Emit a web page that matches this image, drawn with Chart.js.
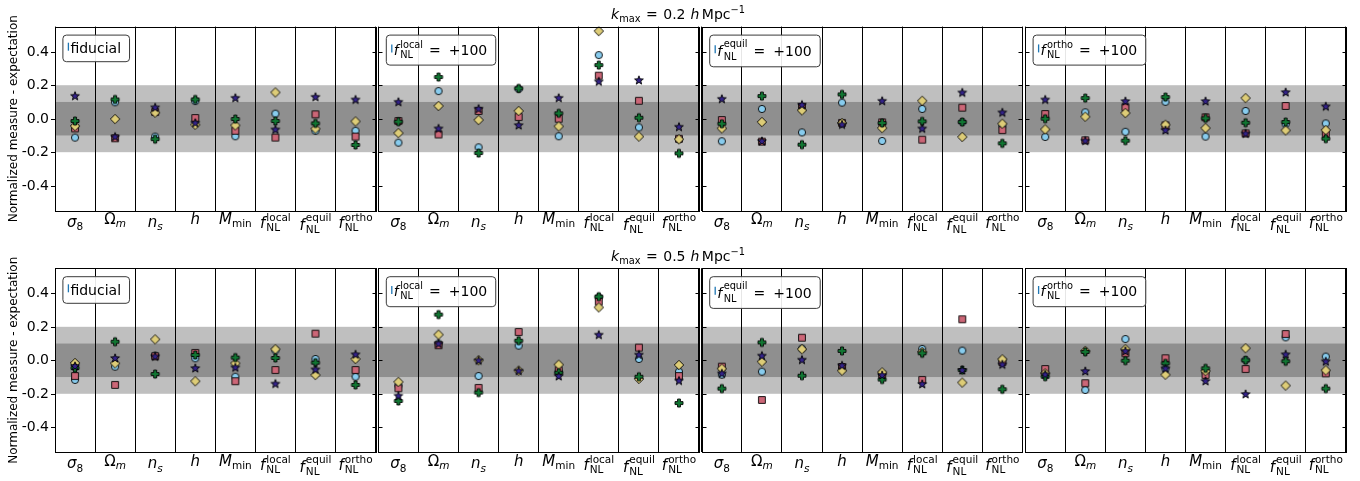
<!DOCTYPE html>
<html><head><meta charset="utf-8">
<script src="https://cdn.jsdelivr.net/npm/chart.js@4/dist/chart.umd.min.js"></script>
<style>
html,body{margin:0;padding:0;background:#fff;width:1360px;height:481px;overflow:hidden;}
#wrap{position:relative;width:1360px;height:481px;}
canvas{position:absolute;left:0;top:0;}
</style></head><body><div id="wrap"></div>
<script>
// ---------------- data ----------------
const categories = ['σ8', 'Ωm', 'ns', 'h', 'Mmin', 'fNL local', 'fNL equil', 'fNL ortho'];
const yTickValues = [-0.4, -0.2, 0, 0.2, 0.4];
const yTickLabels = ['-0.4', '-0.2', '0.0', '0.2', '0.4'];
const bandLimits = [0.1, 0.2];
const kmaxValues = ['0.2', '0.5'];
const panelNames = ['fiducial', 'local', 'equil', 'ortho'];
const seriesNames = ['circle', 'square', 'diamond', 'plus', 'star'];

// k_max = 0.2, fiducial
const k02_fid_circle  = [-0.113, 0.098, -0.107, 0.105, -0.105, 0.030, -0.072, -0.072];
const k02_fid_square  = [-0.058, -0.117, 0.040, 0.004, -0.072, -0.113, 0.026, -0.107];
const k02_fid_diamond = [-0.044, -0.002, 0.036, -0.036, -0.040, 0.157, -0.060, -0.016];
const k02_fid_plus    = [-0.014, 0.115, -0.122, 0.115, -0.002, -0.014, -0.028, -0.157];
const k02_fid_star    = [0.137, -0.107, 0.068, -0.024, 0.125, -0.064, 0.131, 0.115];
// k_max = 0.2, fNL local = +100
const k02_loc_circle  = [-0.143, 0.165, -0.171, 0.178, -0.105, 0.380, -0.052, -0.123];
const k02_loc_square  = [-0.014, -0.094, 0.046, 0.010, 0.000, 0.257, 0.107, -0.120];
const k02_loc_diamond = [-0.086, 0.076, -0.008, 0.046, -0.046, 0.523, -0.107, -0.123];
const k02_loc_plus    = [-0.018, 0.249, -0.205, 0.181, 0.032, 0.320, 0.006, -0.207];
const k02_loc_star    = [0.101, -0.058, 0.060, -0.038, 0.125, 0.223, 0.231, -0.048];
// k_max = 0.2, fNL equil = +100
const k02_equ_circle  = [-0.135, 0.058, -0.082, 0.096, -0.133, 0.058, -0.020, -0.040];
const k02_equ_square  = [-0.008, -0.137, 0.070, -0.025, -0.022, -0.125, 0.066, -0.068];
const k02_equ_diamond = [-0.058, -0.020, 0.050, -0.026, -0.056, 0.107, -0.109, -0.030];
const k02_equ_plus    = [-0.030, 0.135, -0.155, 0.145, -0.026, -0.016, -0.020, -0.147];
const k02_equ_star    = [0.119, -0.133, 0.084, -0.034, 0.107, -0.058, 0.157, 0.038];
// k_max = 0.2, fNL ortho = +100
const k02_ort_circle  = [-0.109, 0.038, -0.078, 0.101, -0.107, 0.046, -0.032, -0.028];
const k02_ort_square  = [0.028, -0.129, 0.068, -0.040, 0.008, -0.088, 0.076, -0.088];
const k02_ort_diamond = [-0.064, 0.012, 0.034, -0.036, -0.056, 0.123, -0.070, -0.068];
const k02_ort_plus    = [0.000, 0.123, -0.131, 0.129, 0.002, -0.024, -0.020, -0.119];
const k02_ort_star    = [0.115, -0.131, 0.105, -0.068, 0.105, -0.088, 0.159, 0.074];
// k_max = 0.5, fiducial
const k05_fid_circle  = [-0.117, -0.038, 0.028, 0.012, -0.098, 0.060, 0.008, -0.098];
const k05_fid_square  = [-0.094, -0.147, 0.024, 0.044, -0.125, -0.058, 0.159, -0.058];
const k05_fid_diamond = [-0.016, -0.018, 0.125, -0.125, -0.018, 0.066, -0.088, 0.008];
const k05_fid_plus    = [-0.046, 0.111, -0.082, 0.032, 0.016, 0.014, -0.014, -0.147];
const k05_fid_star    = [-0.034, 0.014, 0.024, -0.046, -0.042, -0.139, -0.054, 0.036];
// k_max = 0.5, fNL local = +100
const k05_loc_circle  = [-0.150, 0.100, -0.094, 0.088, -0.070, 0.376, 0.008, -0.068];
const k05_loc_square  = [-0.167, 0.090, -0.165, 0.169, -0.060, 0.350, 0.076, -0.094];
const k05_loc_diamond = [-0.129, 0.153, 0.000, -0.062, -0.026, 0.316, -0.111, -0.028];
const k05_loc_plus    = [-0.243, 0.273, -0.193, 0.117, -0.074, 0.380, -0.098, -0.255];
const k05_loc_star    = [-0.211, 0.100, 0.000, -0.062, -0.094, 0.153, 0.034, -0.121];
// k_max = 0.5, fNL equil = +100
const k05_equ_circle  = [-0.086, -0.068, 0.070, -0.050, -0.080, 0.068, 0.058, 0.000];
const k05_equ_square  = [-0.038, -0.237, 0.135, -0.040, -0.086, -0.117, 0.245, -0.010];
const k05_equ_diamond = [-0.050, -0.008, 0.066, -0.062, -0.072, 0.050, -0.133, 0.006];
const k05_equ_plus    = [-0.169, 0.107, -0.092, 0.056, -0.115, 0.042, -0.058, -0.173];
const k05_equ_star    = [-0.078, 0.028, 0.004, -0.030, -0.088, -0.141, -0.058, -0.024];
// k_max = 0.5, fNL ortho = +100
const k05_ort_circle  = [-0.080, -0.177, 0.127, -0.050, -0.070, 0.002, 0.137, 0.022];
const k05_ort_square  = [-0.052, -0.137, 0.042, 0.012, -0.088, -0.052, 0.157, -0.078];
const k05_ort_diamond = [-0.078, 0.056, 0.066, -0.086, -0.064, 0.072, -0.151, -0.060];
const k05_ort_plus    = [-0.098, 0.050, -0.002, -0.018, -0.048, 0.000, -0.006, -0.169];
const k05_ort_star    = [-0.084, -0.064, 0.056, -0.048, -0.123, -0.201, 0.036, -0.006];

const panelData = [
  [[k02_fid_circle, k02_fid_square, k02_fid_diamond, k02_fid_plus, k02_fid_star],
   [k02_loc_circle, k02_loc_square, k02_loc_diamond, k02_loc_plus, k02_loc_star],
   [k02_equ_circle, k02_equ_square, k02_equ_diamond, k02_equ_plus, k02_equ_star],
   [k02_ort_circle, k02_ort_square, k02_ort_diamond, k02_ort_plus, k02_ort_star]],
  [[k05_fid_circle, k05_fid_square, k05_fid_diamond, k05_fid_plus, k05_fid_star],
   [k05_loc_circle, k05_loc_square, k05_loc_diamond, k05_loc_plus, k05_loc_star],
   [k05_equ_circle, k05_equ_square, k05_equ_diamond, k05_equ_plus, k05_equ_star],
   [k05_ort_circle, k05_ort_square, k05_ort_diamond, k05_ort_plus, k05_ort_star]]
];

// ---------------- style / layout ----------------
const W = 1360, H = 481;
const panelLefts = [55, 378.4, 701.8, 1025.2];
const panelWidth = 320.6;
const rowTops = [26.6, 268.2];
const panelHeight = 184.2;
const FONT = '"DejaVu Sans", "Liberation Sans", sans-serif';
const seriesColors = {circle: '#88CCEE', square: '#CC6677', diamond: '#DDCC77', plus: '#117733', star: '#332288'};
const seriesOrder = {circle: 5, square: 4, diamond: 3, plus: 2, star: 1};

function makeMarker(kind) {
  const c = document.createElement('canvas');
  c.width = 16; c.height = 16;
  const g = c.getContext('2d');
  g.translate(8, 8);
  g.beginPath();
  if (kind === 'circle') {
    g.arc(0, 0, 3.6, 0, Math.PI * 2);
  } else if (kind === 'square') {
    g.rect(-3.4, -3.4, 6.8, 6.8);
  } else if (kind === 'diamond') {
    g.moveTo(0, -4.7); g.lineTo(4.7, 0); g.lineTo(0, 4.7); g.lineTo(-4.7, 0);
  } else if (kind === 'plus') {
    const a = 4.0, b = 1.45;
    g.moveTo(-b, -a); g.lineTo(b, -a); g.lineTo(b, -b); g.lineTo(a, -b); g.lineTo(a, b);
    g.lineTo(b, b); g.lineTo(b, a); g.lineTo(-b, a); g.lineTo(-b, b); g.lineTo(-a, b);
    g.lineTo(-a, -b); g.lineTo(-b, -b);
  } else if (kind === 'star') {
    const ro = 4.6, ri = 1.9;
    for (let k = 0; k < 10; k++) {
      const r = k % 2 ? ri : ro;
      const ang = -Math.PI / 2 + k * Math.PI / 5;
      const px = r * Math.cos(ang), py = r * Math.sin(ang) + 0.4;
      if (k === 0) g.moveTo(px, py); else g.lineTo(px, py);
    }
  }
  g.closePath();
  g.fillStyle = seriesColors[kind];
  g.fill();
  g.lineWidth = 0.9;
  g.strokeStyle = '#000';
  g.stroke();
  return c;
}
const markerImgs = {};
seriesNames.forEach(n => markerImgs[n] = makeMarker(n));

function font(s, it) { return (it ? 'italic ' : '') + s + 'px ' + FONT; }
function measureParts(ctx, parts) {
  let w = 0;
  for (const p of parts) {
    w += p.gap || 0;
    if (p.sup !== undefined) {
      ctx.font = font(p.s, false);
      p._w = Math.max(ctx.measureText(p.sup).width, ctx.measureText(p.sub).width);
    } else {
      ctx.font = font(p.s, p.i);
      p._w = ctx.measureText(p.t).width;
    }
    w += p._w;
  }
  return w;
}
function drawParts(ctx, parts, x, base) {
  ctx.textAlign = 'left';
  ctx.textBaseline = 'alphabetic';
  for (const p of parts) {
    x += p.gap || 0;
    if (p.sup !== undefined) {
      ctx.font = font(p.s, false);
      ctx.fillText(p.sup, x, base + p.up);
      ctx.fillText(p.sub, x, base + p.dn);
    } else {
      ctx.font = font(p.s, p.i);
      ctx.fillText(p.t, x, base + (p.dy || 0));
    }
    x += p._w;
  }
  return x;
}

// rich x tick labels (index follows categories)
function xLabelSpec(idx) {
  const S = 15, s = 10.5;
  switch (idx) {
    case 0: return {off: 15.9, parts: [{t: 'σ', s: S, i: 1}, {t: '8', s: s, dy: 3.3}]};
    case 1: return {off: 13.2, parts: [{t: 'Ω', s: S}, {t: 'm', s: s, i: 1, dy: 3.3}]};
    case 2: return {off: 15.9, parts: [{t: 'n', s: S, i: 1}, {t: 's', s: s, i: 1, dy: 3.3}]};
    case 3: return {off: 13.2, parts: [{t: 'h', s: S, i: 1}]};
    case 4: return {off: 13.2, parts: [{t: 'M', s: S, i: 1}, {t: 'min', s: s, dy: 3.3}]};
    case 5: return {off: 17.2, parts: [{t: 'f', s: S, i: 1}, {sup: 'local', sub: 'NL', s: s, up: -7, dn: 3.3, gap: 1}]};
    case 6: return {off: 19.2, parts: [{t: 'f', s: S, i: 1}, {sup: 'equil', sub: 'NL', s: s, up: -9, dn: 3.3, gap: 1}]};
    case 7: return {off: 17.2, parts: [{t: 'f', s: S, i: 1}, {sup: 'ortho', sub: 'NL', s: s, up: -7, dn: 3.3, gap: 1}]};
  }
}
function legendSpec(name) {
  if (name === 'fiducial') return {h: 26.6, base: 18.8, parts: [{t: 'fiducial', s: 14}]};
  const eq = name === 'equil';
  return {
    h: eq ? 31.7 : 30, base: eq ? 21.7 : 20,
    parts: [{t: 'f', s: 14, i: 1},
            {sup: name, sub: 'NL', s: 9.8, up: eq ? -9 : -6.8, dn: eq ? 4 : 3, gap: 1.5},
            {t: '=', s: 14, gap: 6}, {t: '+', s: 14, gap: 8}, {t: '100', s: 14}]
  };
}

const decoPlugin = {
  id: 'deco',
  beforeDraw(chart, args, opts) {
    const {ctx, chartArea: a} = chart;
    const y = chart.scales.y;
    ctx.save();
    const o1 = y.getPixelForValue(bandLimits[1]), o2 = y.getPixelForValue(-bandLimits[1]);
    const i1 = y.getPixelForValue(bandLimits[0]), i2 = y.getPixelForValue(-bandLimits[0]);
    ctx.fillStyle = '#bfbfbf';
    ctx.fillRect(a.left, o1, a.right - a.left, o2 - o1);
    ctx.fillStyle = '#8f8f8f';
    ctx.fillRect(a.left, i1, a.right - a.left, i2 - i1);
    ctx.restore();
  },
  afterDraw(chart, args, opts) {
    const {ctx, chartArea: a} = chart;
    const y = chart.scales.y, x = chart.scales.x;
    ctx.save();
    ctx.fillStyle = '#000';
    ctx.strokeStyle = '#000';
    ctx.lineWidth = 1;
    // frame
    const L = Math.round(a.left), R = Math.round(a.right), T = Math.round(a.top), B = Math.round(a.bottom);
    ctx.strokeRect(L + 0.5, T + 0.5, R - L, B - T);
    // y ticks (and tick labels on the first column)
    ctx.beginPath();
    yTickValues.forEach((v, i) => {
      const yp = y.getPixelForValue(v);
      const yy = Math.round(yp) + 0.5;
      if (opts.col === 0) {
        ctx.moveTo(L - 4, yy); ctx.lineTo(L, yy);
        ctx.font = font(14, false);
        ctx.textAlign = 'right';
        ctx.textBaseline = 'middle';
        ctx.fillText(yTickLabels[i], L - 6, yp + 0.5);
      } else { ctx.moveTo(L, yy); ctx.lineTo(L + 4.5, yy); }
      ctx.moveTo(R + 1, yy); ctx.lineTo(R - 3.5, yy);
    });
    ctx.stroke();
    // x tick labels
    categories.forEach((c, i) => {
      const spec = xLabelSpec(i);
      const w = measureParts(ctx, spec.parts);
      const cx = x.getPixelForTick(i);
      drawParts(ctx, spec.parts, cx - w / 2, a.bottom + spec.off);
    });
    // legend box
    const lg = legendSpec(opts.legend);
    const tw = measureParts(ctx, lg.parts);
    const bl = a.left + 7.4, bt = a.top + 8, bw = tw + 16, bh = lg.h;
    ctx.beginPath();
    ctx.roundRect(bl + 0.5, bt + 0.5, bw, bh, 3.5);
    ctx.fillStyle = 'rgba(255,255,255,0.9)';
    ctx.fill();
    ctx.strokeStyle = '#3a3a3a';
    ctx.lineWidth = 1;
    ctx.stroke();
    ctx.beginPath();
    ctx.strokeStyle = '#1f77b4';
    ctx.lineWidth = 1.3;
    const hc = bt + bh / 2 - 1.2;
    ctx.moveTo(bl + 6, hc - 4); ctx.lineTo(bl + 6, hc + 4);
    ctx.stroke();
    ctx.fillStyle = '#000';
    drawParts(ctx, lg.parts, bl + 8, bt + lg.base);
    if (opts.col === 0) {
      // row title
      const tparts = [{t: 'k', s: 14, i: 1}, {t: 'max', s: 9.8, dy: 3},
        {t: '=', s: 14, gap: 5.5}, {t: kmaxValues[opts.row], s: 14, gap: 5.5},
        {t: 'h', s: 14, i: 1, gap: 5}, {t: 'Mpc', s: 14, gap: 2.5}, {t: '−1', s: 9.8, dy: -6}];
      const ttw = measureParts(ctx, tparts);
      drawParts(ctx, tparts, 678 - ttw / 2, a.top - 7.6);
      // y axis label
      ctx.save();
      ctx.translate(14, (a.top + a.bottom) / 2);
      ctx.rotate(-Math.PI / 2);
      ctx.font = font(12, false);
      ctx.textAlign = 'center';
      ctx.textBaseline = 'middle';
      ctx.fillText('Normalized measure - expectation', 0, 0);
      ctx.restore();
    }
    ctx.restore();
  }
};

const wrap = document.getElementById('wrap');
for (let r = 0; r < 2; r++) {
  for (let c = 0; c < 4; c++) {
    const cv = document.createElement('canvas');
    cv.width = W; cv.height = H;
    cv.style.width = W + 'px'; cv.style.height = H + 'px';
    wrap.appendChild(cv);
    const left = panelLefts[c], top = rowTops[r];
    const datasets = seriesNames.map((n, k) => ({
      label: n,
      data: panelData[r][c][k],
      showLine: false,
      pointStyle: markerImgs[n],
      pointRadius: 4,
      pointHoverRadius: 4,
      borderWidth: 0,
      order: seriesOrder[n]
    }));
    new Chart(cv, {
      type: 'line',
      data: {labels: categories, datasets},
      plugins: [decoPlugin],
      options: {
        animation: false, responsive: false, devicePixelRatio: 1, events: [],
        layout: {padding: {left: left, top: top, right: W - left - panelWidth, bottom: H - top - panelHeight}},
        plugins: {legend: {display: false}, tooltip: {enabled: false}, title: {display: false},
                  deco: {row: r, col: c, legend: panelNames[c]}},
        scales: {
          x: {type: 'category', offset: true,
              grid: {offset: true, color: '#000', lineWidth: 1, drawTicks: false},
              border: {display: false}, ticks: {display: false},
              afterFit: s => { s.height = 0; }},
          y: {type: 'linear', min: -0.55, max: 0.55, bounds: 'data',
              grid: {display: false}, border: {display: false},
              ticks: {display: false},
              afterBuildTicks: s => { s.ticks = yTickValues.map(v => ({value: v})); },
              afterFit: s => { s.width = 0; }}
        }
      }
    });
  }
}
</script>
</body></html>
